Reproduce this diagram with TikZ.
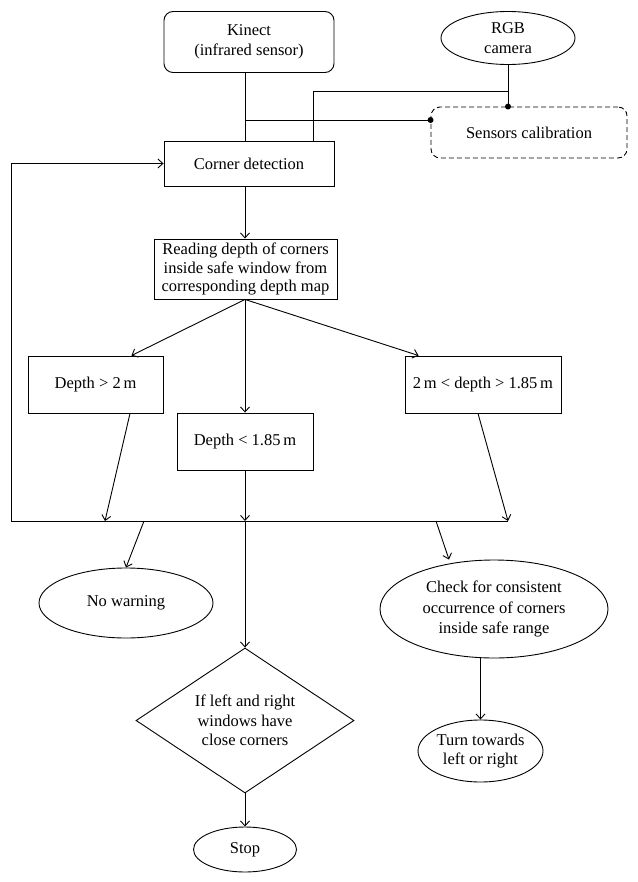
\documentclass[tikz,border=0pt]{standalone}
\usepackage{fontspec}
\setmainfont{Liberation Serif}
\usetikzlibrary{shapes.geometric,arrows.meta}
\begin{document}
\begin{tikzpicture}[x=1pt,y=-1pt,
  every node/.style={font=\fontsize{16.5}{19.5}\selectfont, align=center, inner sep=0pt, line width=0.9pt},
  line width=0.9pt,
  box/.style={draw, rectangle, minimum width=#1},
  rbox/.style={draw, rectangle, rounded corners=9pt},
  ell/.style={draw, ellipse},
  arr/.style={-{Straight Barb[length=5pt,width=9pt]}},
  dot/.style={circle, fill, inner sep=0pt, minimum size=6pt}
]
\useasboundingbox (0,0) rectangle (637,882);

% nodes
\node[rbox, minimum width=170pt, minimum height=61pt] (kinect) at (249,42) {Kinect\\(infrared sensor)};
\node[ell, minimum width=134pt, minimum height=53pt] (rgb) at (508,38) {RGB\\camera};
\node[rbox, dash pattern=on 5pt off 3pt, minimum width=196pt, minimum height=51pt] (calib) at (529,132.5) {Sensors calibration};
\node[box=170pt, minimum height=45pt] (corner) at (249,163.5) {Corner detection};
\node[box=183pt, minimum height=60pt, font=\fontsize{16.5}{18.5}\selectfont] (reading) at (245.5,269) {Reading depth of corners\\inside safe window from\\corresponding depth map};
\node[box=135pt, minimum height=57pt] (dtwo) at (95.5,384.5) {Depth > 2\,m};
\node[box=156pt, minimum height=57pt] (dmid) at (483,384.5) {2\,m < depth > 1.85\,m};
\node[box=136pt, minimum height=57pt] (dlow) at (245,441.5) {Depth < 1.85\,m};
\node[ell, minimum width=174pt, minimum height=70pt] (nowarn) at (126,603) {No warning};
\node[ell, minimum width=228pt, minimum height=98pt, font=\fontsize{16.5}{20.5}\selectfont] (check) at (494,609) {Check for consistent\\occurrence of corners\\inside safe range};
\node[draw, diamond, aspect=1.5, minimum width=218pt, minimum height=145pt] (dia) at (245,720.5) {If left and right\\windows have\\close corners};
\node[ell, minimum width=103pt, minimum height=45pt] (stop) at (245,849.5) {Stop};
\node[ell, minimum width=125pt, minimum height=62pt] (turn) at (480.5,751) {Turn towards\\left or right};

% coordinates
\coordinate (j1) at (245,120);
\coordinate (k1) at (313,91);
\coordinate (j2) at (508,91);
\coordinate (fb) at (11,521);
\coordinate (busR) at (508,521);
\coordinate (b1) at (105,521);
\coordinate (b2) at (245,521);
\coordinate (o1) at (144,521);
\coordinate (o2) at (436,521);

% top connections
\draw (kinect.south -| j1) -- (corner.north -| j1);
\draw (j1) -- (calib.west |- j1) node[dot] (d1) {};
\draw (rgb.south) -- (rgb.south |- calib.north) node[dot] (d2) {};
\draw (k1 |- corner.north) -- (k1) -- (j2);

% feedback loop and bus
\draw[arr] (fb) |- (corner.west);
\draw (fb) -- (busR);

% main flow
\draw[arr] (corner.south -| j1) -- (reading.north -| j1);
\draw[arr] (reading.south -| j1) -- ([xshift=-32pt]dtwo.north east);
\draw[arr] (reading.south -| j1) -- (dlow.north);
\draw[arr] (reading.south -| j1) -- ([xshift=14pt]dmid.north west);
\draw[arr] ([xshift=34.5pt]dtwo.south) -- (b1);
\draw[arr] (dlow.south) -- (b2);
\draw[arr] ([xshift=-5pt]dmid.south) -- (busR);
\draw[arr] (o1) -- (nowarn.north);
\draw[arr] (o2) -- ([xshift=-45pt]check.north);
\draw[arr] (b2) -- (dia.north);
\draw[arr] (dia.south) -- (stop.north);
\draw[arr] (check.south -| turn.north) -- (turn.north);
\end{tikzpicture}
\end{document}
